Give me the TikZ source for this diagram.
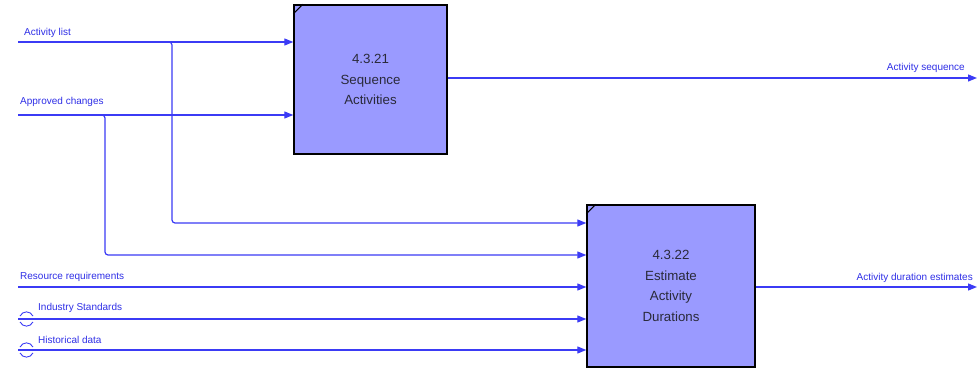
\documentclass[tikz,border=0pt]{standalone}
\usepackage{fontspec}
\setmainfont{Liberation Sans}
\usetikzlibrary{arrows.meta}
\definecolor{flow}{HTML}{3B3BF5}
\definecolor{lbl}{HTML}{2E2EE6}
\definecolor{boxfill}{HTML}{9A9AFF}
\definecolor{boxtext}{HTML}{2A2A3A}
\tikzset{
  procbox/.style={draw=black, line width=1.4pt, fill=boxfill, text=boxtext, align=center, inner sep=0pt,
    font=\fontsize{13.3}{20.5}\selectfont},
  flowline/.style={draw=flow, line width=1.2pt},
  flowarrow/.style={flowline, -{Triangle[length=9pt,width=7pt]}},
  branch/.style={flowarrow, rounded corners=3pt},
  flowlabel/.style={text=lbl, font=\fontsize{10}{12}\selectfont, inner sep=0pt},
  tunnel/.style={draw=flow, line width=0.9pt}
}
\begin{document}
\begin{tikzpicture}[x=1pt,y=-1pt]
\useasboundingbox (0,0) rectangle (977,382);
% boxes
\node[procbox, minimum width=153pt, minimum height=149pt] (seq) at (370.5,79.5) {4.3.21\\Sequence\\Activities};
\node[procbox, minimum width=168pt, minimum height=162pt] (est) at (671,286) {4.3.22\\Estimate\\Activity\\Durations};
\draw[black, line width=1.1pt] ([yshift=-9.5pt]seq.north west) -- ([xshift=9.5pt]seq.north west);
\draw[black, line width=1.1pt] ([yshift=-9.5pt]est.north west) -- ([xshift=9.5pt]est.north west);
% free ends
\coordinate (al) at (18,42);
\coordinate (ac) at (18,115);
\coordinate (rr) at (18,287);
\coordinate (is) at (18,319);
\coordinate (hd) at (18,350);
\coordinate (alb) at (167,42);
\coordinate (acb) at (100,115);
\coordinate (aso) at (977,78);
\coordinate (ade) at (977,287);
% inputs to box 1
\draw[flowarrow] (al) -- (al -| seq.west);
\draw[flowarrow] (ac) -- (ac -| seq.west);
% branches to box 2
\draw[branch] (alb) -| (172,223) -- (est.west |- 0,223);
\draw[branch] (acb) -| (105,255) -- (est.west |- 0,255);
% other inputs
\draw[flowarrow] (rr) -- (rr -| est.west);
\draw[flowarrow] (is) -- (is -| est.west);
\draw[flowarrow] (hd) -- (hd -| est.west);
% outputs
\draw[flowarrow] (seq.east |- aso) -- (aso);
\draw[flowarrow] (est.east |- ade) -- (ade);
% tunnels
\draw[tunnel] (20,316) .. controls (23,310.5) and (30,310.5) .. (33,316);
\draw[tunnel] (20,322) .. controls (23,327.5) and (30,327.5) .. (33,322);
\draw[tunnel] (20,347) .. controls (23,341.5) and (30,341.5) .. (33,347);
\draw[tunnel] (20,353) .. controls (23,358.5) and (30,358.5) .. (33,353);
% labels
\node[flowlabel, anchor=base west] (l1) at (24,36) {Activity list};
\node[flowlabel, anchor=base west] (l2) at (20,105) {Approved changes};
\node[flowlabel, anchor=base west] (l3) at (20,279) {Resource requirements};
\node[flowlabel, anchor=base west] (l4) at (38,310) {Industry Standards};
\node[flowlabel, anchor=base west] (l5) at (38,343) {Historical data};
\node[flowlabel, anchor=base east] (l6) at (965,71) {Activity sequence};
\node[flowlabel, anchor=base east] (l7) at (973,280) {Activity duration estimates};
\end{tikzpicture}
\end{document}
